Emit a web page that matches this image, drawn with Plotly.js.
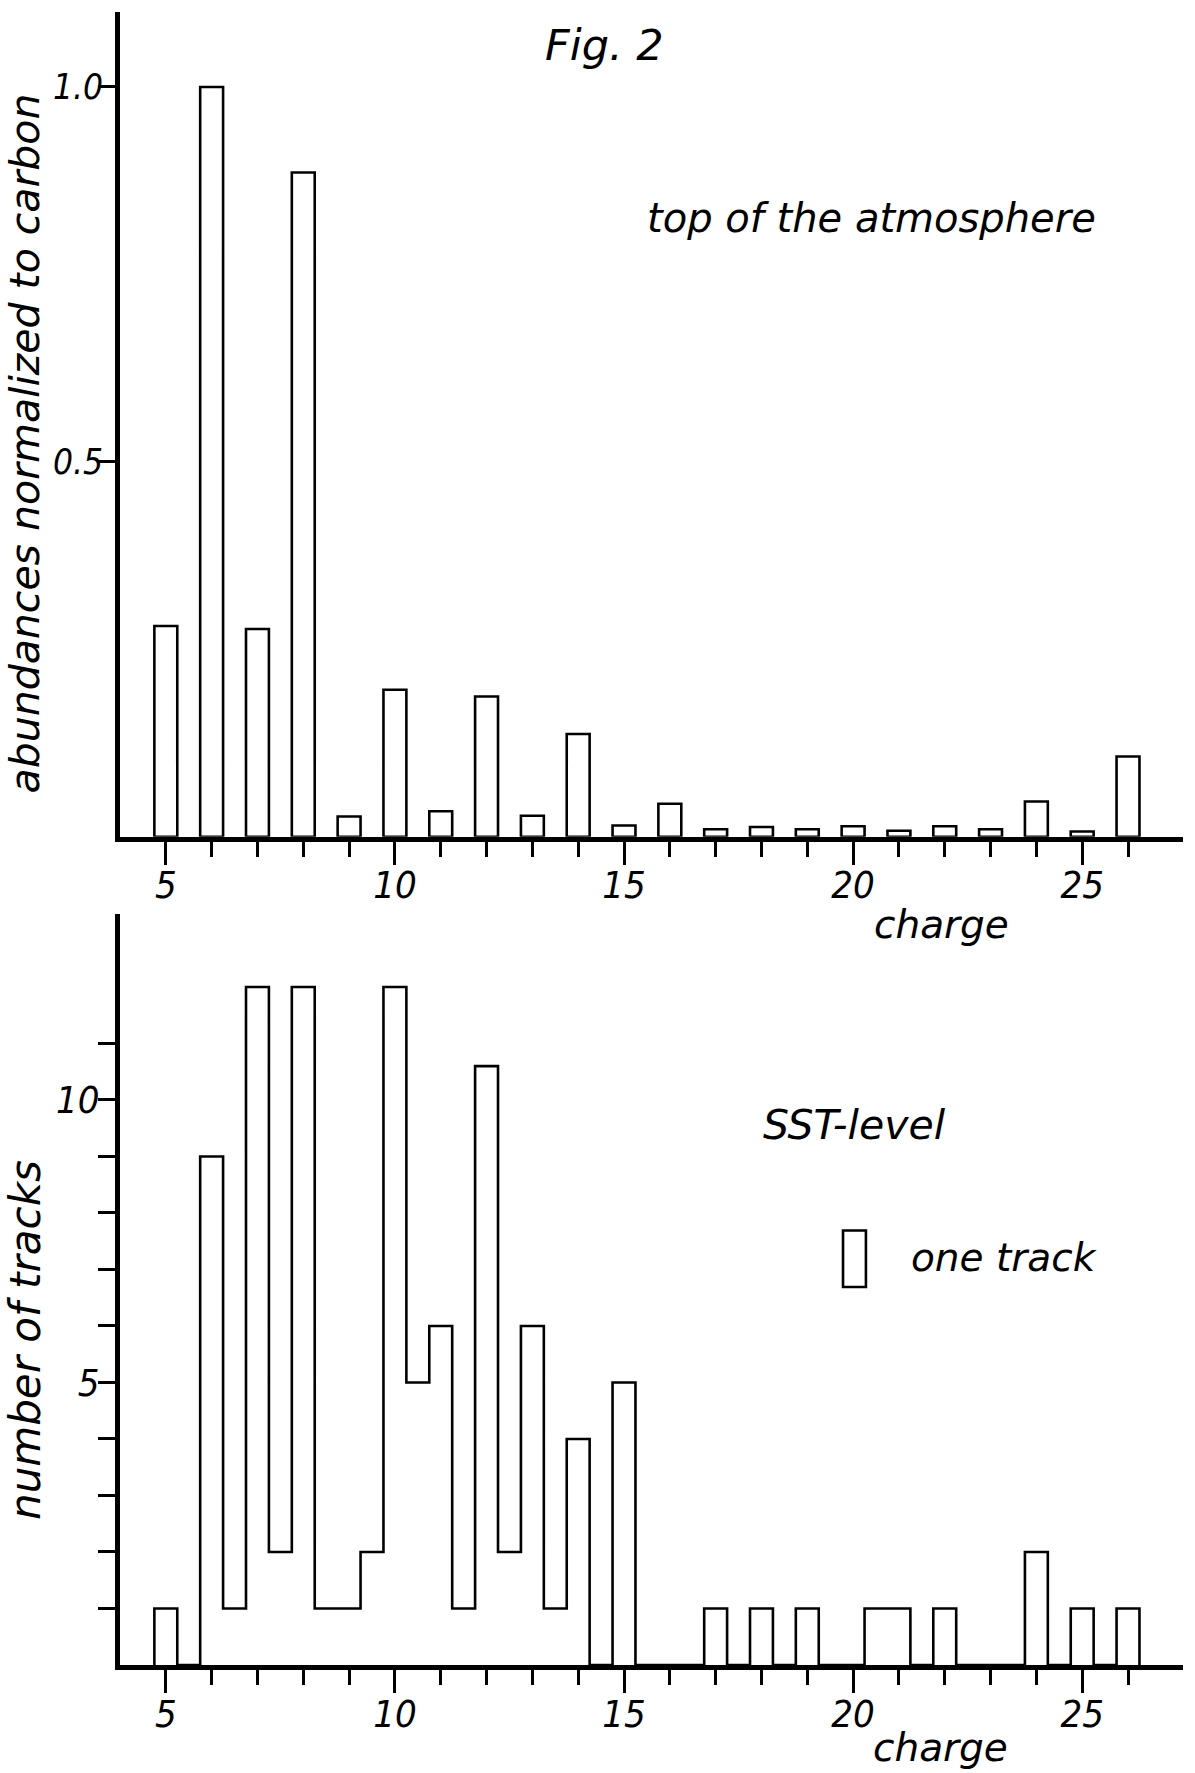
<!DOCTYPE html>
<html>
<head>
<meta charset="utf-8">
<script src="https://cdn.plot.ly/plotly-3.0.1.min.js"></script>
<style>
  html, body { margin: 0; padding: 0; background: #ffffff; }
  #chart { width: 1195px; height: 1773px; }
</style>
</head>
<body>
<div id="chart"></div>
<script>
// ---- Top panel: abundances at the top of the atmosphere (normalized to carbon) ----
const topCharge = [5, 6, 7, 8, 9, 10, 11, 12, 13, 14, 15, 16, 17, 18, 19, 20, 21, 22, 23, 24, 25, 26];
const topAbundance = [0.281, 1.0, 0.277, 0.886, 0.027, 0.196, 0.034, 0.187, 0.028, 0.137, 0.015, 0.044,
                      0.010, 0.013, 0.010, 0.014, 0.008, 0.014, 0.010, 0.047, 0.007, 0.107];

// ---- Bottom panel: number of tracks at SST level (half-charge bins) ----
const sstCharge = [5, 6, 6.5, 7, 7.5, 8, 8.5, 9, 9.5, 10, 10.5, 11, 11.5, 12, 12.5, 13, 13.5, 14,
                   15, 17, 18, 19, 20.5, 21, 22, 24, 25, 26];
const sstTracks = [1, 9, 1, 12, 2, 12, 1, 1, 2, 12, 5, 6, 1, 10.6, 2, 6, 1, 4,
                   5, 1, 1, 1, 1, 1, 1, 2, 1, 1];

// ---- Tick labels ----
const xMajorTicks = [5, 10, 15, 20, 25];
const xMajorLabels = ["5", "10", "15", "20", "25"];
const xMinorTicks = [6, 7, 8, 9, 11, 12, 13, 14, 16, 17, 18, 19, 21, 22, 23, 24, 26];
const topYTicks = [0.5, 1.0];
const topYLabels = ["0.5", "1.0"];
const botYTicks = [1, 2, 3, 4, 5, 6, 7, 8, 9, 10, 11];
const botYLabels = ["", "", "", "", "5", "", "", "", "", "10", ""];

// ---- Text ----
const figLabel = "Fig. 2";
const topPanelLabel = "top of the atmosphere";
const botPanelLabel = "SST-level";
const keyLabel = "one track";
const xTitle = "charge";
const topYTitle = "abundances normalized to carbon";
const botYTitle = "number of tracks";

// build histogram outline (step path) from the half-charge bins
const BIN_W = 0.5;
const stepX = [], stepY = [];
let prevRight = null;
for (let i = 0; i < sstCharge.length; i++) {
  const L = sstCharge[i] - BIN_W / 2, R = sstCharge[i] + BIN_W / 2;
  if (prevRight === null || Math.abs(L - prevRight) > 1e-6) {
    if (prevRight !== null) { stepX.push(prevRight); stepY.push(0); }
    stepX.push(L); stepY.push(0);
  }
  stepX.push(L); stepY.push(sstTracks[i]);
  stepX.push(R); stepY.push(sstTracks[i]);
  prevRight = R;
}
stepX.push(prevRight); stepY.push(0);

const FONT = "DejaVu Sans, Verdana, sans-serif";
const NUMFONT = "DejaVu Sans Condensed, Liberation Sans Narrow, Roboto Condensed, Liberation Sans, sans-serif";
const ink = "#000000";

const topBars = {
  type: "bar",
  x: topCharge,
  y: topAbundance,
  width: 0.5,
  xaxis: "x", yaxis: "y",
  marker: { color: "#ffffff", line: { color: ink, width: 2.6 } },
  hoverinfo: "skip"
};

const sstOutline = {
  type: "scatter",
  mode: "lines",
  x: stepX,
  y: stepY,
  xaxis: "x2", yaxis: "y2",
  line: { color: ink, width: 2.6, shape: "linear" },
  hoverinfo: "skip"
};

function xAxis(anchor) {
  return {
    anchor: anchor,
    domain: [0, 1],
    range: [4.0, 27.2],
    showline: true, linecolor: ink, linewidth: 5,
    showgrid: false, zeroline: false,
    ticks: "outside", ticklen: 23, tickwidth: 3, tickcolor: ink,
    tickmode: "array", tickvals: xMajorTicks, ticktext: xMajorLabels,
    minor: { tickmode: "array", tickvals: xMinorTicks, ticks: "outside", ticklen: 15, tickwidth: 3, tickcolor: ink, showgrid: false },
    tickfont: { family: NUMFONT, size: 38, color: ink, style: "italic" },
    ticklabelstandoff: -12,
    fixedrange: true
  };
}

function yAxis(anchor, domain, range, vals, labels, size, standoff) {
  return {
    anchor: anchor,
    domain: domain,
    range: range,
    showline: true, linecolor: ink, linewidth: 5,
    showgrid: false, zeroline: false,
    ticks: "outside", ticklen: 17, tickwidth: 3, tickcolor: ink,
    tickmode: "array", tickvals: vals, ticktext: labels,
    tickfont: { family: NUMFONT, size: size, color: ink, style: "italic" },
    ticklabelstandoff: standoff,
    fixedrange: true
  };
}

const txt = (size) => ({ family: FONT, size: size, color: ink, style: "italic" });
const label = (text, xref, yref, x, y, size, extra) => Object.assign({
  text: text, xref: xref, yref: yref, x: x, y: y,
  xanchor: "center", yanchor: "middle", showarrow: false, font: txt(size)
}, extra || {});

const layout = {
  width: 1195, height: 1773,
  autosize: false,
  margin: { l: 120, r: 12, t: 12, b: 108 },
  paper_bgcolor: "#ffffff",
  plot_bgcolor: "#ffffff",
  showlegend: false,
  hovermode: false,
  bargap: 0,
  xaxis: xAxis("y"),
  yaxis: yAxis("x", [0.5011, 1], [0, 1.1], topYTicks, topYLabels, 35, -12),
  xaxis2: xAxis("y2"),
  yaxis2: yAxis("x2", [0, 0.4546], [0, 13.3], botYTicks, botYLabels, 38, -9),
  shapes: [
    { type: "rect", xref: "x2", yref: "y2", x0: 19.78, x1: 20.28, y0: 6.69, y1: 7.69,
      line: { color: ink, width: 2.6 }, fillcolor: "rgba(0,0,0,0)" }
  ],
  annotations: [
    label(figLabel, "paper", "paper", 0.4562, 0.9800, 43),
    label(topPanelLabel, "paper", "paper", 0.7070, 0.8754, 40),
    label(xTitle, "paper", "paper", 0.7731, 0.4477, 39),
    label(botPanelLabel, "paper", "paper", 0.6911, 0.3267, 41),
    label(keyLabel, "paper", "paper", 0.8316, 0.2468, 39),
    label(xTitle, "paper", "paper", 0.7720, -0.0502, 39),
    label(topYTitle, "paper", "paper", -0.0894, 0.7390, 41, { textangle: -90 }),
    label(botYTitle, "paper", "paper", -0.0894, 0.1966, 42, { textangle: -90 })
  ]
};

Plotly.newPlot("chart", [topBars, sstOutline], layout, { staticPlot: true, displayModeBar: false });
</script>
</body>
</html>
